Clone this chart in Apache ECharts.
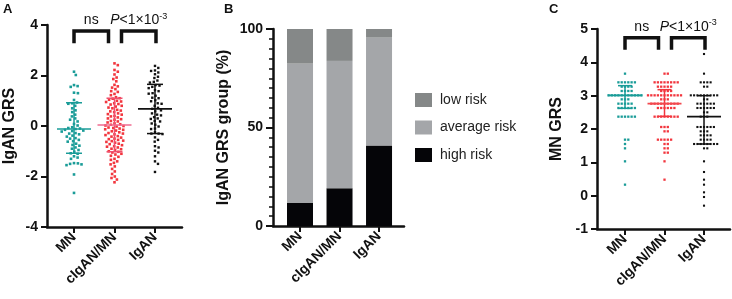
<!DOCTYPE html>
<html>
<head>
<meta charset="utf-8">
<script src="https://cdn.jsdelivr.net/npm/echarts@6/dist/echarts.min.js"></script>
<style>
html, body { margin: 0; padding: 0; background: #fff; }
#main { width: 732px; height: 299px; }
</style>
</head>
<body>
<div id="main"></div>
<script>
// groups on every x axis
var groups = ['MN', 'cIgAN/MN', 'IgAN'];

// A: IgAN GRS per patient
var grsA_MN = [2.15, 2.02, 1.62, 1.58, 1.55, 1.32, 1.3, 1.03, 0.93, 0.9, 0.88, 0.8, 0.7, 0.62, 0.55,
  0.45, 0.38, 0.3, 0.25, 0.18, 0.08, 0.02, -0.05, -0.08, -0.1, -0.12, -0.15, -0.18, -0.2, -0.22,
  -0.28, -0.3, -0.33, -0.38, -0.42, -0.48, -0.5, -0.55, -0.6, -0.62, -0.7, -0.75, -0.78, -0.85,
  -0.9, -0.95, -1.02, -1.08, -1.1, -1.2, -1.25, -1.3, -1.47, -1.48, -1.5, -1.52, -1.55, -1.92, -2.65];
var grsA_cIgAN = [2.48, 2.41, 2.22, 2.15, 2.04, 1.92, 1.86, 1.77, 1.63, 1.57, 1.52, 1.46, 1.38, 1.35,
  1.27, 1.22, 1.14, 1.1, 1.08, 1.04, 1.0, 0.97, 0.95, 0.9, 0.87, 0.85, 0.8, 0.77, 0.73, 0.7, 0.64,
  0.61, 0.58, 0.55, 0.5, 0.47, 0.45, 0.4, 0.38, 0.34, 0.3, 0.27, 0.25, 0.2, 0.18, 0.14, 0.1, 0.07,
  0.05, 0.02, 0.0, -0.02, -0.06, -0.08, -0.1, -0.13, -0.15, -0.18, -0.21, -0.25, -0.28, -0.3,
  -0.33, -0.36, -0.4, -0.42, -0.46, -0.5, -0.52, -0.55, -0.58, -0.6, -0.63, -0.66, -0.7, -0.72,
  -0.76, -0.8, -0.82, -0.85, -0.9, -0.92, -0.95, -1.0, -1.02, -1.05, -1.1, -1.13, -1.18, -1.22,
  -1.3, -1.34, -1.4, -1.46, -1.52, -1.6, -1.7, -1.8, -1.9, -2.0, -2.06, -2.12, -2.23];
var grsA_IgAN = [2.38, 2.3, 2.2, 2.18, 2.12, 2.05, 1.95, 1.9, 1.8, 1.75, 1.72, 1.62, 1.6, 1.55, 1.5,
  1.42, 1.38, 1.3, 1.28, 1.2, 1.12, 1.1, 1.02, 0.98, 0.9, 0.88, 0.8, 0.72, 0.68, 0.62, 0.58, 0.5,
  0.45, 0.42, 0.35, 0.3, 0.28, 0.2, 0.18, 0.1, 0.05, -0.02, -0.1, -0.12, -0.25, -0.3, -0.3, -0.32,
  -0.45, -0.55, -0.62, -0.8, -0.85, -0.98, -1.05, -1.2, -1.4, -1.5, -1.82];
var meanA = [-0.12, 0.04, 0.68];
var sdLowA = [-1.08, -1.02, -0.3];
var sdHighA = [0.92, 1.1, 1.65];

// B: share of patients per risk group (%)
var highRisk = [11.7, 19.1, 40.8];
var averageRisk = [70.7, 64.7, 54.8];
var lowRisk = [17.6, 16.2, 4.4];

// C: MN GRS, distinct levels and how many patients sit on each
var mnC_levels = [3.66, 3.40, 3.27, 3.14, 3.01, 2.89, 2.76, 2.63, 2.37, 1.68, 1.55, 1.42, 1.03, 0.33];
var mnC_counts = [1, 6, 4, 4, 11, 3, 5, 6, 6, 2, 1, 1, 1, 1];
var cigC_levels = [3.66, 3.40, 3.27, 3.14, 3.01, 2.89, 2.76, 2.63, 2.37, 2.06, 1.93, 1.68, 1.55, 1.42, 1.29, 1.03, 0.48];
var cigC_counts = [2, 8, 5, 4, 11, 3, 9, 6, 8, 3, 2, 5, 2, 2, 2, 1, 1];
var igaC_levels = [4.25, 3.66, 3.40, 3.27, 3.01, 2.89, 2.76, 2.63, 2.50, 2.37, 2.06, 1.93, 1.81, 1.68,
  1.55, 1.42, 1.03, 0.71, 0.48, 0.33, 0.10, -0.04, -0.30];
var igaC_counts = [1, 1, 4, 2, 9, 2, 6, 6, 2, 3, 6, 3, 4, 4, 8, 2, 1, 1, 1, 1, 1, 1, 1];
var meanC = [3.01, 2.76, 2.37];
var sdLowC = [2.62, 2.38, 1.55];
var sdHighC = [3.3, 3.18, 3.0];

var FONT = '"Liberation Sans", Arial, sans-serif';
var INK = '#111';
var TEAL = '#1a9c98';
var RED = '#f2363e';
var PINK = '#ef6b90';

function expand(levels, counts) {
  var out = [];
  levels.forEach(function (v, i) {
    for (var k = 0; k < counts[i]; k++) out.push(v);
  });
  return out;
}

var chart = echarts.init(document.getElementById('main'));

function xAxisOf(gi, min, max) {
  return {
    gridIndex: gi, type: 'value', min: min, max: max,
    axisLine: { onZero: false, lineStyle: { color: INK, width: 2.5 } },
    axisTick: { customValues: [0, 1, 2], length: 6, lineStyle: { color: INK, width: 2 } },
    axisLabel: {
      customValues: [0, 1, 2], rotate: 45, margin: 8,
      formatter: function (v) { return groups[Math.round(v)]; },
      color: INK, fontSize: 14, fontWeight: 'bold', fontFamily: FONT
    },
    splitLine: { show: false }
  };
}

function yAxisOf(gi, min, max, interval, name, gap) {
  return {
    gridIndex: gi, type: 'value', min: min, max: max, interval: interval,
    name: name, nameLocation: 'middle', nameGap: gap,
    nameTextStyle: { color: INK, fontSize: 16, fontWeight: 'bold', fontFamily: FONT },
    axisLine: { show: true, onZero: false, lineStyle: { color: INK, width: 2.5 } },
    axisTick: { show: true, length: 6, lineStyle: { color: INK, width: 2 } },
    axisLabel: { margin: 9, color: INK, fontSize: 14, fontWeight: 'bold', fontFamily: FONT },
    splitLine: { show: false }
  };
}

var yB = yAxisOf(1, 0, 100, 50, 'IgAN GRS group (%)', 41);
yB.axisTick.length = 7;
yB.minorTick = { show: true, splitNumber: 10, length: 4, lineStyle: { color: INK, width: 1.5 } };
yB.axisLabel.margin = 10;

chart.setOption({
  animation: false,
  grid: [
    { left: 47, top: 25, width: 135, height: 202, outerBoundsMode: 'none' },
    { left: 273, top: 29, width: 131, height: 197, outerBoundsMode: 'none' },
    { left: 597, top: 29, width: 133, height: 200, outerBoundsMode: 'none' }
  ],
  xAxis: [xAxisOf(0, -0.667, 2.667), xAxisOf(1, -0.684, 2.632), xAxisOf(2, -0.709, 2.658)],
  yAxis: [
    yAxisOf(0, -4, 4, 2, 'IgAN GRS', 29),
    yB,
    yAxisOf(2, -1, 5, 1, 'MN GRS', 32)
  ]
});

// beeswarm offsets (pixels), from the y pixels given by the axis
function swarm(gi, vals, d) {
  var ys = vals.map(function (v) { return chart.convertToPixel({ yAxisIndex: gi }, v); });
  var order = ys.map(function (y, i) { return i; }).sort(function (a, b) { return ys[a] - ys[b]; });
  var placed = [];
  var dx = [];
  order.forEach(function (i) {
    var y = ys[i];
    for (var k = 0; k < 400; k++) {
      var c = (k % 2 ? 1 : -1) * Math.ceil(k / 2) * 0.3;
      var ok = true;
      for (var j = 0; j < placed.length; j++) {
        var dy = Math.abs(placed[j][1] - y);
        if (dy >= d) continue;
        var need = Math.sqrt(d * d - dy * dy);
        if (Math.abs(placed[j][0] - c) < need - 1e-6) { ok = false; break; }
      }
      if (ok) { dx[i] = c; placed.push([c, y]); break; }
    }
  });
  return dx;
}

function pointSeries(gi, cat, vals, color, d, r) {
  var dx = swarm(gi, vals, d);
  return {
    type: 'custom', xAxisIndex: gi, yAxisIndex: gi, silent: true, z: 3,
    encode: { x: 0, y: 1 },
    data: vals.map(function (v, i) { return [cat, v, dx[i]]; }),
    renderItem: function (params, api) {
      var c = api.coord([api.value(0), api.value(1)]);
      return {
        type: 'rect',
        shape: { x: c[0] + api.value(2) - r, y: c[1] - r, width: 2 * r, height: 2 * r },
        style: { fill: color }
      };
    }
  };
}

function summarySeries(gi, means, lows, highs, meanColors, barColors, half, cap) {
  return {
    type: 'custom', xAxisIndex: gi, yAxisIndex: gi, silent: true, z: 4,
    encode: { x: 0, y: 1 },
    data: means.map(function (m, i) { return [i, m, lows[i], highs[i]]; }),
    renderItem: function (params, api) {
      var i = params.dataIndex;
      var m = api.coord([api.value(0), api.value(1)]);
      var lo = api.coord([api.value(0), api.value(2)]);
      var hi = api.coord([api.value(0), api.value(3)]);
      var ls = { stroke: barColors[i], lineWidth: 1.5 };
      return {
        type: 'group',
        children: [
          { type: 'line', shape: { x1: lo[0], y1: lo[1], x2: hi[0], y2: hi[1] }, style: ls },
          { type: 'line', shape: { x1: lo[0] - cap, y1: lo[1], x2: lo[0] + cap, y2: lo[1] }, style: ls },
          { type: 'line', shape: { x1: hi[0] - cap, y1: hi[1], x2: hi[0] + cap, y2: hi[1] }, style: ls },
          { type: 'line', shape: { x1: m[0] - half, y1: m[1], x2: m[0] + half, y2: m[1] },
            style: { stroke: meanColors[i], lineWidth: 1.6 } }
        ]
      };
    }
  };
}

// significance brackets above the groups
function bracketSeries(gi, topVal, legVal) {
  var pairs = [[0, 1, 0, -6, 'ns'], [1, 2, 7, 1, '{i|P}<1×10{s|-3}']];
  return {
    type: 'custom', xAxisIndex: gi, yAxisIndex: gi, silent: true, z: 5, clip: false,
    encode: { x: 0, y: 1 },
    data: [[0, topVal]],
    renderItem: function (params, api) {
      var kids = [];
      pairs.forEach(function (p) {
        var a = api.coord([p[0], topVal]);
        var b = api.coord([p[1], topVal]);
        var bot = api.coord([p[0], legVal])[1];
        var x1 = a[0] + p[2], x2 = b[0] + p[3], yt = a[1];
        kids.push({
          type: 'polyline',
          shape: { points: [[x1, bot], [x1, yt], [x2, yt], [x2, bot]] },
          style: { stroke: INK, lineWidth: 3.5, fill: null, lineJoin: 'miter' }
        });
        kids.push({
          type: 'text', x: (x1 + x2) / 2, y: yt - 11,
          style: {
            text: p[4], fill: INK, fontSize: 14, fontFamily: FONT,
            align: 'center', verticalAlign: 'middle',
            rich: {
              i: { fontStyle: 'italic', fontSize: 14, fontFamily: FONT, fill: INK },
              s: { fontSize: 9, fontFamily: FONT, fill: INK, verticalAlign: 'top', padding: [0, 0, 8, 0] }
            }
          }
        });
      });
      return { type: 'group', children: kids };
    }
  };
}

function barSeries(name, cumLow, values, color) {
  return {
    name: name, type: 'custom', xAxisIndex: 1, yAxisIndex: 1, silent: true,
    itemStyle: { color: color },
    encode: { x: 0, y: 2 },
    data: values.map(function (v, i) { return [i, cumLow[i], cumLow[i] + v]; }),
    renderItem: function (params, api) {
      var a = api.coord([api.value(0), api.value(1)]);
      var b = api.coord([api.value(0), api.value(2)]);
      return {
        type: 'rect',
        shape: { x: a[0] - 13, y: b[1], width: 26, height: a[1] - b[1] },
        style: { fill: color }
      };
    }
  };
}

var zeros = [0, 0, 0];
var afterHigh = highRisk.slice();
var afterAvg = highRisk.map(function (v, i) { return v + averageRisk[i]; });

var series = [
  pointSeries(0, 0, grsA_MN, TEAL, 3.7, 1.3),
  pointSeries(0, 1, grsA_cIgAN, RED, 3.6, 1.3),
  pointSeries(0, 2, grsA_IgAN, INK, 3.7, 1.2),
  summarySeries(0, meanA, sdLowA, sdHighA, [TEAL, PINK, INK], [TEAL, '#f0506e', INK], 17, 8),
  bracketSeries(0, 3.76, 3.28),
  barSeries('high risk', zeros, highRisk, '#050508'),
  barSeries('average risk', afterHigh, averageRisk, '#a4a6a9'),
  barSeries('low risk', afterAvg, lowRisk, '#858888'),
  pointSeries(2, 0, expand(mnC_levels, mnC_counts), TEAL, 3.3, 1.15),
  pointSeries(2, 1, expand(cigC_levels, cigC_counts), RED, 3.3, 1.15),
  pointSeries(2, 2, expand(igaC_levels, igaC_counts), INK, 3.3, 1.05),
  summarySeries(2, meanC, sdLowC, sdHighC, [TEAL, '#f2484e', INK], [TEAL, RED, INK], 17, 7),
  bracketSeries(2, 4.74, 4.38)
];

chart.setOption({
  legend: {
    orient: 'vertical', left: 415, top: 93, padding: 0,
    itemWidth: 17, itemHeight: 14, itemGap: 13.5, icon: 'rect',
    data: ['low risk', 'average risk', 'high risk'],
    textStyle: { color: '#222', fontSize: 14, fontFamily: FONT, padding: [0, 0, 0, 3] }
  },
  graphic: [
    { type: 'text', left: 3, top: 3, style: { text: 'A', font: 'bold 13px ' + FONT, fill: INK } },
    { type: 'text', left: 224, top: 3, style: { text: 'B', font: 'bold 13px ' + FONT, fill: INK } },
    { type: 'text', left: 549, top: 3, style: { text: 'C', font: 'bold 13px ' + FONT, fill: INK } }
  ],
  series: series
});
</script>
</body>
</html>
